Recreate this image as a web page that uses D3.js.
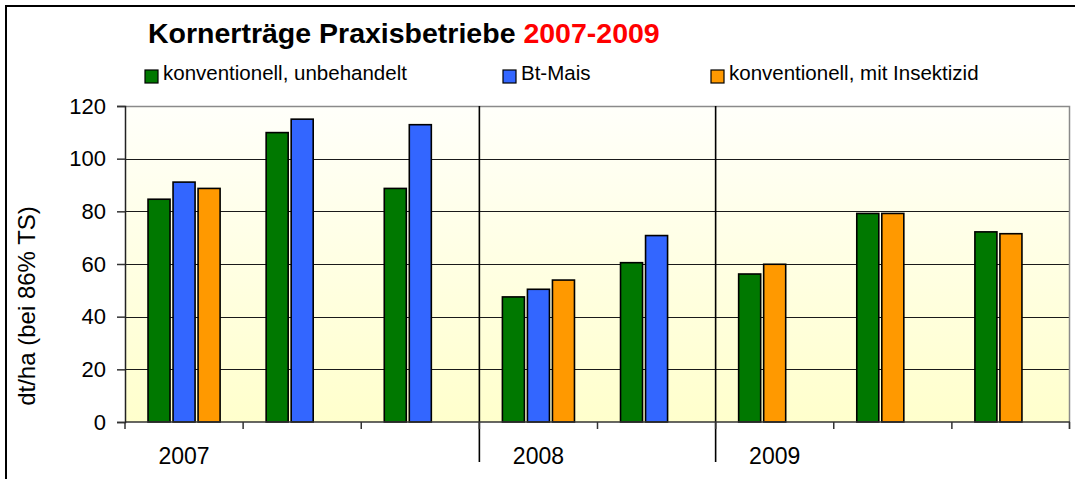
<!DOCTYPE html>
<html lang="de">
<head>
    <meta charset="UTF-8">
    <script src="https://d3js.org/d3.v7.min.js"></script>
    <title>Kornerträge Praxisbetriebe</title>
    <style>
        body { margin: 0; background: #fff; }
        svg { display: block; font-family: "Liberation Sans", Arial, sans-serif; }
    </style>
</head>
<body>
    <div id="chart"></div>
    <script>
        // data
        const years = ["2007", "2008", "2009"];
        const groupsPerYear = [3, 2, 3];
        const seriesNames = ["konventionell, unbehandelt", "Bt-Mais", "konventionell, mit Insektizid"];
        const seriesColors = ["#007800", "#3366ff", "#ff9900"];
        const unbehandelt = [84.6, 109.9, 88.7, 47.5, 60.5, 56.2, 79.2, 72.2];
        const btMais = [91.1, 115.0, 112.9, 50.4, 70.8, null, null, null];
        const insektizid = [88.7, null, null, 53.9, null, 59.9, 79.2, 71.5];
        const yTicks = [0, 20, 40, 60, 80, 100, 120];

        const w = 1075, h = 479;
        const plot = {left: 125, right: 1070, top: 106, bottom: 422};

        const svg = d3.select("#chart").append("svg")
            .attr("width", w)
            .attr("height", h);

        // outer frame (left + top only, rest is cut off)
        svg.append("path")
            .attr("d", `M6,${h} V6 H${w}`)
            .attr("fill", "none")
            .attr("stroke", "#000")
            .attr("stroke-width", 2);

        const defs = svg.append("defs");
        const grad = defs.append("linearGradient")
            .attr("id", "bg")
            .attr("x1", 0).attr("y1", 0).attr("x2", 0).attr("y2", 1);
        grad.append("stop").attr("offset", "0%").attr("stop-color", "#fffffa");
        grad.append("stop").attr("offset", "100%").attr("stop-color", "#ffffcc");

        // one entry per group: index + year label on first group of each year
        const groups = [];
        years.forEach((yr, i) => {
            for (let k = 0; k < groupsPerYear[i]; k++) {
                groups.push({idx: groups.length, label: k === 0 ? yr : "", first: k === 0});
            }
        });

        const x0 = d3.scaleBand()
            .domain(groups.map(d => d.idx))
            .range([plot.left, plot.right]);

        const x1 = d3.scaleBand()
            .domain([0, 1, 2])
            .range([0, x0.bandwidth()])
            .paddingInner(0.12)
            .paddingOuter(0.92);

        const y = d3.scaleLinear()
            .domain([0, 120])
            .range([plot.bottom, plot.top]);

        // plot background
        svg.append("rect")
            .attr("x", plot.left)
            .attr("y", plot.top)
            .attr("width", plot.right - plot.left)
            .attr("height", plot.bottom - plot.top)
            .attr("fill", "url(#bg)");

        // gridlines
        svg.append("g")
            .selectAll("line")
            .data(yTicks.filter(t => t > 0 && t < 120))
            .join("line")
            .attr("x1", plot.left)
            .attr("x2", plot.right)
            .attr("y1", d => Math.round(y(d)) + 0.5)
            .attr("y2", d => Math.round(y(d)) + 0.5)
            .attr("stroke", "#1a1a1a")
            .attr("stroke-width", 1);

        // top + right border of the plot area
        svg.append("path")
            .attr("d", `M${plot.left},${y(120) + 0.5} H${plot.right - 0.5} V${plot.bottom + 7}`)
            .attr("fill", "none")
            .attr("stroke", "#8a8a8a")
            .attr("stroke-width", 1.5);

        // bars: the values present in a group are packed from the left slot
        const bars = [];
        groups.forEach(g => {
            const vals = [unbehandelt[g.idx], btMais[g.idx], insektizid[g.idx]];
            let slot = 0;
            vals.forEach((v, s) => {
                if (v != null) {
                    bars.push({group: g.idx, slot: slot, series: s, value: v});
                    slot++;
                }
            });
        });

        svg.append("g")
            .selectAll("rect")
            .data(bars)
            .join("rect")
            .attr("x", d => x0(d.group) + x1(d.slot))
            .attr("y", d => y(d.value))
            .attr("width", x1.bandwidth())
            .attr("height", d => y(0) - y(d.value))
            .attr("fill", d => seriesColors[d.series])
            .attr("stroke", "#000")
            .attr("stroke-width", 1.6);

        // year separators
        const separators = groups.filter(g => g.first && g.idx > 0);
        svg.append("g")
            .selectAll("line")
            .data(separators)
            .join("line")
            .attr("x1", d => x0(d.idx))
            .attr("x2", d => x0(d.idx))
            .attr("y1", plot.top)
            .attr("y2", 462)
            .attr("stroke", "#000")
            .attr("stroke-width", 1.6);

        // x axis (ticks on group boundaries)
        const xAxis = svg.append("g");
        xAxis.append("line")
            .attr("x1", plot.left).attr("x2", plot.right)
            .attr("y1", plot.bottom).attr("y2", plot.bottom)
            .attr("stroke", "#333")
            .attr("stroke-width", 1.5);
        xAxis.selectAll("line.tick")
            .data(groups.map(g => g.idx).concat([groups.length]))
            .join("line")
            .attr("class", "tick")
            .attr("x1", d => d < groups.length ? x0(d) : plot.right - 0.5)
            .attr("x2", d => d < groups.length ? x0(d) : plot.right - 0.5)
            .attr("y1", plot.bottom)
            .attr("y2", plot.bottom + 7)
            .attr("stroke", "#333")
            .attr("stroke-width", 1.5);
        xAxis.selectAll("text")
            .data(groups.filter(g => g.label))
            .join("text")
            .attr("x", d => x0(d.idx) + x0.bandwidth() / 2)
            .attr("y", 464)
            .attr("text-anchor", "middle")
            .attr("font-size", 23)
            .attr("fill", "#000")
            .text(d => d.label);

        // y axis
        const yAxis = svg.append("g")
            .attr("transform", `translate(${plot.left},0)`)
            .call(d3.axisLeft(y).tickValues(yTicks).tickSize(8).tickPadding(11));
        yAxis.select(".domain").attr("stroke", "#222").attr("stroke-width", 1.5);
        yAxis.selectAll(".tick line").attr("stroke", "#333").attr("stroke-width", 1.5);
        yAxis.selectAll(".tick text")
            .attr("font-size", 22)
            .attr("font-family", "Liberation Sans, Arial, sans-serif")
            .attr("fill", "#000");

        svg.append("text")
            .attr("transform", "translate(35,306) rotate(-90)")
            .attr("text-anchor", "middle")
            .attr("font-size", 24)
            .attr("fill", "#000")
            .text("dt/ha (bei 86% TS)");

        // title
        const title = svg.append("text")
            .attr("x", 148)
            .attr("y", 43)
            .attr("font-size", 28.5)
            .attr("font-weight", "bold")
            .attr("fill", "#000")
            .text("Kornerträge Praxisbetriebe ");
        title.append("tspan")
            .attr("fill", "#ff0000")
            .text("2007-2009");

        // legend
        const legendX = [145, 503, 711];
        const legend = svg.append("g")
            .selectAll("g")
            .data(seriesNames)
            .join("g")
            .attr("transform", (d, i) => `translate(${legendX[i]},0)`);
        legend.append("rect")
            .attr("x", 0)
            .attr("y", 70)
            .attr("width", 13)
            .attr("height", 13)
            .attr("fill", (d, i) => seriesColors[i])
            .attr("stroke", "#000")
            .attr("stroke-width", 1.2);
        legend.append("text")
            .attr("x", 18)
            .attr("y", 80)
            .attr("font-size", 20.5)
            .attr("fill", "#000")
            .text(d => d);
    </script>
</body>
</html>
